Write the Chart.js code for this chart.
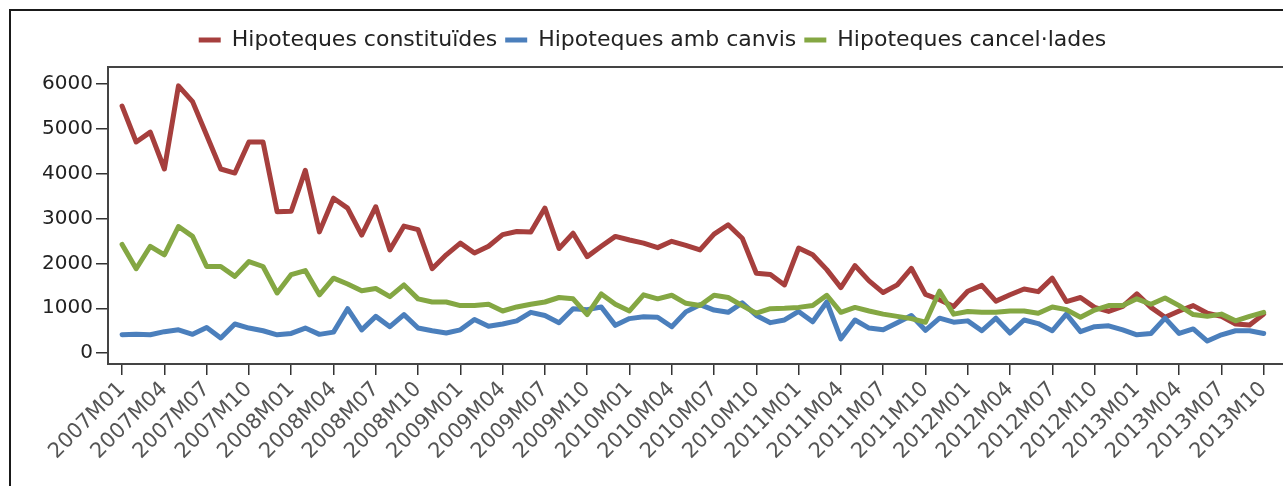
<!DOCTYPE html>
<html>
<head>
<meta charset="utf-8">
<script src="https://cdn.jsdelivr.net/npm/chart.js@4.4.1/dist/chart.umd.min.js"></script>
<style>
  html, body { margin: 0; padding: 0; background: #fff; overflow: hidden; }
  #frame { position: absolute; left: 9px; top: 9px; width: 1300px; height: 500px;
           border-left: 2px solid #1a1a1a; border-top: 2px solid #1a1a1a; }
  #wrap { position: absolute; left: 11px; top: 11px; width: 1283px; height: 475px; }
</style>
</head>
<body>
<div id="frame"></div>
<div id="wrap"><canvas id="myChart"></canvas></div>
<script>
// Months 2007M01 .. 2013M10
const months = [
  '2007M01','2007M02','2007M03','2007M04','2007M05','2007M06','2007M07','2007M08','2007M09','2007M10','2007M11','2007M12',
  '2008M01','2008M02','2008M03','2008M04','2008M05','2008M06','2008M07','2008M08','2008M09','2008M10','2008M11','2008M12',
  '2009M01','2009M02','2009M03','2009M04','2009M05','2009M06','2009M07','2009M08','2009M09','2009M10','2009M11','2009M12',
  '2010M01','2010M02','2010M03','2010M04','2010M05','2010M06','2010M07','2010M08','2010M09','2010M10','2010M11','2010M12',
  '2011M01','2011M02','2011M03','2011M04','2011M05','2011M06','2011M07','2011M08','2011M09','2011M10','2011M11','2011M12',
  '2012M01','2012M02','2012M03','2012M04','2012M05','2012M06','2012M07','2012M08','2012M09','2012M10','2012M11','2012M12',
  '2013M01','2013M02','2013M03','2013M04','2013M05','2013M06','2013M07','2013M08','2013M09','2013M10'
];

const constituides = [
  5500, 4700, 4920, 4100, 5950, 5600, 4850, 4100, 4010, 4700, 4700, 3150,
  3160, 4070, 2700, 3450, 3230, 2630, 3260, 2300, 2830, 2750, 1880, 2190,
  2450, 2230, 2380, 2640, 2710, 2700, 3230, 2330, 2670, 2150, 2380, 2600,
  2520, 2450, 2350, 2490, 2400, 2300, 2650, 2860, 2560, 1780, 1750, 1520,
  2340, 2190, 1860, 1460, 1950, 1610, 1350, 1520, 1890, 1310, 1190, 1040,
  1380, 1510, 1160, 1300, 1430, 1370, 1670, 1150, 1240, 1020, 930, 1040,
  1320, 1020, 800, 940, 1060, 890, 820, 650, 630, 870
];

const ambCanvis = [
  410, 420, 410, 480, 520, 420, 570, 340, 650, 560, 500, 410,
  440, 560, 420, 470, 990, 520, 820, 590, 860, 560, 500, 450,
  520, 750, 600, 650, 720, 910, 840, 680, 990, 970, 1030, 620,
  770, 810, 800, 590, 920, 1080, 960, 910, 1120, 840, 680, 740,
  930, 700, 1140, 320, 740, 560, 520, 680, 840, 510, 780, 690,
  720, 500, 780, 450, 740, 660, 500, 870, 480, 590, 610, 520,
  410, 440, 780, 440, 540, 270, 410, 500, 500, 440
];

const cancelades = [
  2420, 1880, 2380, 2190, 2820, 2600, 1930, 1930, 1710, 2040, 1930, 1340,
  1750, 1840, 1300, 1670, 1540, 1390, 1440, 1260, 1520, 1210, 1140, 1140,
  1060, 1060, 1090, 940, 1030, 1090, 1140, 1240, 1210, 860, 1320, 1090,
  940, 1300, 1210, 1290, 1110, 1060, 1290, 1240, 1060, 890, 990, 1000,
  1020, 1060, 1290, 910, 1020, 940, 870, 820, 770, 690, 1380, 870,
  930, 910, 910, 940, 940, 890, 1030, 970, 800, 960, 1060, 1060,
  1210, 1090, 1230, 1060, 860, 820, 870, 720, 820, 910
];

const yTicks = [0, 1000, 2000, 3000, 4000, 5000, 6000];
// every third month gets a tick label
const xTicks = months.map((m, i) => i).filter(i => i % 3 === 0);

const fontFamily = '"DejaVu Sans", Verdana, sans-serif';

function toPoints(values) {
  return values.map((v, i) => ({ x: i, y: v }));
}

// top edge of the plot box + a bit more room under the legend
const plotBox = {
  id: 'plotBox',
  beforeLayout(chart) {
    const lg = chart.legend;
    if (lg && !lg._patched) {
      const fit = lg.fit.bind(lg);
      lg.fit = function () { fit(); this.height += 6; };
      lg._patched = true;
    }
  },
  beforeDatasetsDraw(chart) {
    const a = chart.chartArea;
    const ctx = chart.ctx;
    ctx.save();
    ctx.strokeStyle = '#444';
    ctx.lineWidth = 2;
    ctx.beginPath();
    ctx.moveTo(a.left, a.top);
    ctx.lineTo(a.right + 5, a.top);
    ctx.stroke();
    ctx.restore();
  }
};

const ctx = document.getElementById('myChart').getContext('2d');
const myChart = new Chart(ctx, {
  type: 'line',
  data: {
    datasets: [
      { label: 'Hipoteques constituïdes', data: toPoints(constituides),
        borderColor: '#a63f3d', backgroundColor: '#a63f3d', order: 2 },
      { label: 'Hipoteques amb canvis', data: toPoints(ambCanvis),
        borderColor: '#4b7fbc', backgroundColor: '#4b7fbc', order: 1 },
      { label: 'Hipoteques cancel·lades', data: toPoints(cancelades),
        borderColor: '#84a743', backgroundColor: '#84a743', order: 0 }
    ]
  },
  options: {
    responsive: true,
    maintainAspectRatio: false,
    animation: false,
    layout: { padding: { top: 10, right: 0, left: 0, bottom: 0 } },
    elements: {
      line: { borderWidth: 5, tension: 0, borderJoinStyle: 'round', borderCapStyle: 'round' },
      point: { radius: 0 }
    },
    plugins: {
      tooltip: { enabled: false },
      legend: {
        position: 'top',
        labels: {
          font: { family: fontFamily, size: 22 },
          color: '#222',
          boxWidth: 22,
          boxHeight: 5,
          padding: 8,
          sort: (a, b) => a.datasetIndex - b.datasetIndex,
          generateLabels: (chart) => {
            const items = Chart.defaults.plugins.legend.labels.generateLabels(chart);
            items.forEach(it => { it.lineWidth = 0; });
            return items;
          }
        }
      }
    },
    scales: {
      x: {
        type: 'linear',
        min: -1,
        max: 83.15,
        afterBuildTicks: (scale) => { scale.ticks = xTicks.map(v => ({ value: v })); },
        afterFit: (scale) => { scale.height = 122; },
        ticks: {
          autoSkip: false,
          minRotation: 45,
          maxRotation: 45,
          padding: 2,
          color: '#555',
          font: { family: fontFamily, size: 21 },
          callback: (value) => months[value]
        },
        grid: { display: true, drawOnChartArea: false, drawTicks: true, tickLength: 11, color: '#333', lineWidth: 1.5 },
        border: { display: true, color: '#444', width: 2 }
      },
      y: {
        min: -240,
        max: 6370,
        afterBuildTicks: (scale) => { scale.ticks = yTicks.map(v => ({ value: v })); },
        afterFit: (scale) => { scale.width = 97; },
        ticks: {
          padding: 3,
          color: '#222',
          font: { family: fontFamily, size: 20 },
          callback: (value) => String(value)
        },
        grid: { display: true, drawOnChartArea: false, drawTicks: true, tickLength: 12, color: '#333', lineWidth: 1.5 },
        border: { display: true, color: '#444', width: 2 }
      }
    }
  },
  plugins: [plotBox]
});
</script>
</body>
</html>
